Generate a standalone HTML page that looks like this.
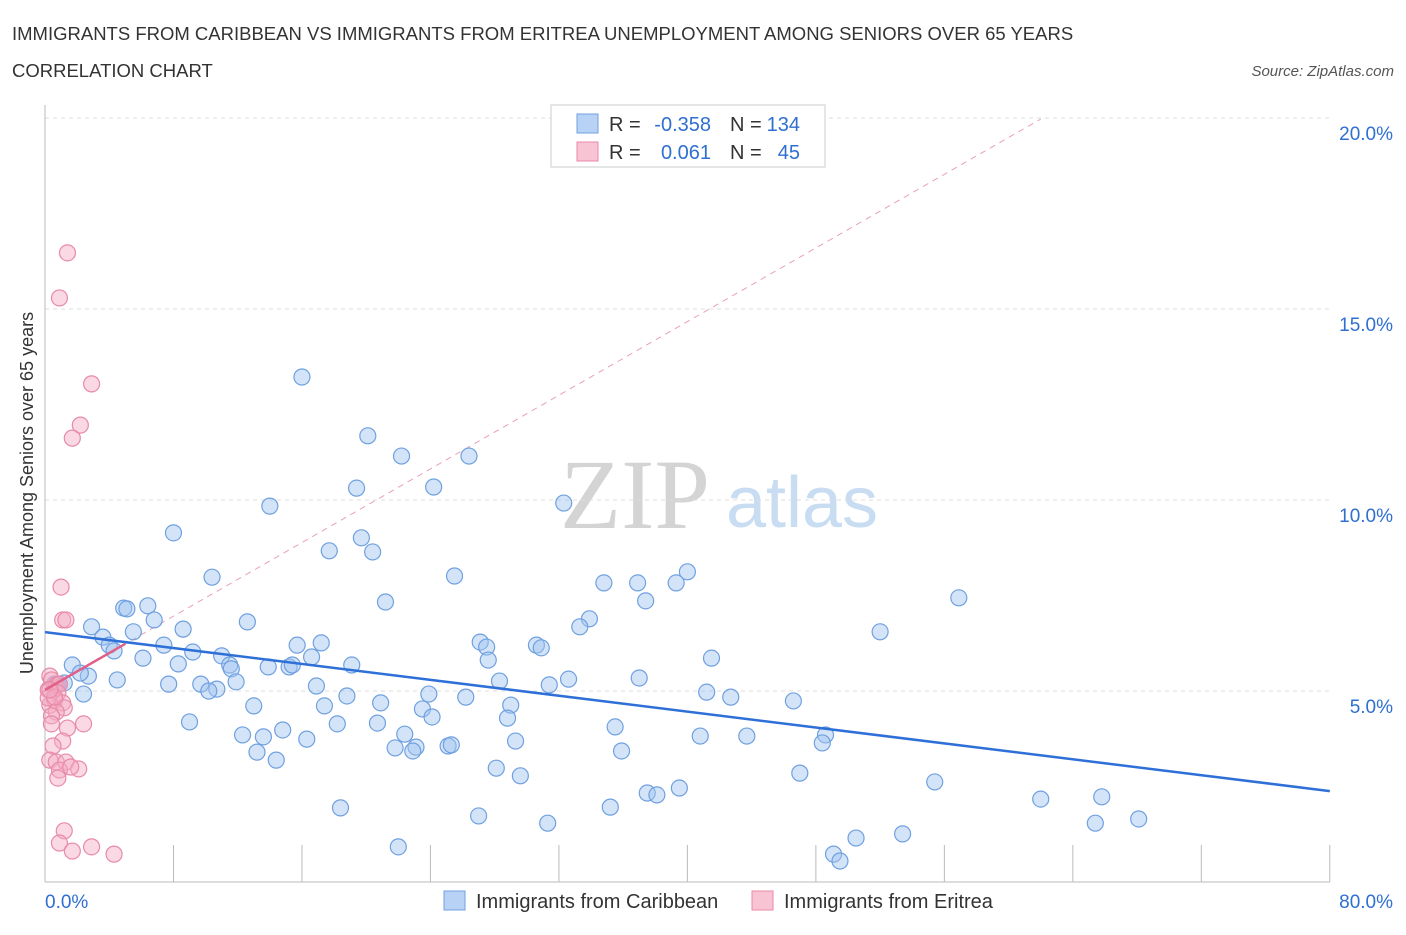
<!DOCTYPE html>
<html><head><meta charset="utf-8"><style>
body{margin:0;background:#fff;font-family:"Liberation Sans",sans-serif;}
</style></head><body>
<svg id="c" width="1406" height="930" xmlns="http://www.w3.org/2000/svg">
<text x="12" y="40" font-size="18.5" fill="#333">IMMIGRANTS FROM CARIBBEAN VS IMMIGRANTS FROM ERITREA UNEMPLOYMENT AMONG SENIORS OVER 65 YEARS</text>
<text x="12" y="77" font-size="18.5" fill="#333">CORRELATION CHART</text>
<text x="1394" y="76" font-size="15" fill="#555" font-style="italic" text-anchor="end">Source: ZipAtlas.com</text>
<text x="635" y="528" font-size="100" fill="#d4d4d4" font-family="Liberation Serif" text-anchor="middle">ZIP</text>
<text x="802" y="527" font-size="72" fill="#c8dcf2" text-anchor="middle">atlas</text>
<g id="grid"></g><g id="marks"></g>
<text transform="translate(33,493) rotate(-90)" font-size="18" fill="#333" text-anchor="middle">Unemployment Among Seniors over 65 years</text>
<g>
<rect x="551" y="105" width="274" height="62" fill="#fff" stroke="#ccc"/>
<rect x="577" y="114" width="21" height="19" fill="#b8d2f5" stroke="#6fa0e0"/>
<rect x="577" y="142" width="21" height="19" fill="#f8c4d4" stroke="#e88aa8"/>
<text x="609" y="131" font-size="20" fill="#333">R =</text>
<text x="711" y="131" font-size="20" fill="#2e6fd0" text-anchor="end">-0.358</text>
<text x="730" y="131" font-size="20" fill="#333">N =</text>
<text x="800" y="131" font-size="20" fill="#2e6fd0" text-anchor="end">134</text>
<text x="609" y="159" font-size="20" fill="#333">R =</text>
<text x="711" y="159" font-size="20" fill="#2e6fd0" text-anchor="end">0.061</text>
<text x="730" y="159" font-size="20" fill="#333">N =</text>
<text x="800" y="159" font-size="20" fill="#2e6fd0" text-anchor="end">45</text>
</g>
<g>
<rect x="444" y="891" width="21" height="19" fill="#b8d2f5" stroke="#6fa0e0"/>
<text x="476" y="908" font-size="20" fill="#333">Immigrants from Caribbean</text>
<rect x="752" y="891" width="21" height="19" fill="#f8c4d4" stroke="#e88aa8"/>
<text x="784" y="908" font-size="20" fill="#333">Immigrants from Eritrea</text>
</g>
</svg>
<script>
const blueX=[16.0,20.1,22.2,26.4,19.4,24.2,32.3,14.0,8.0,19.7,17.7,20.4,25.5,10.4,34.8,36.9,40.0,39.3,56.9,37.4,21.2,4.9,6.4,5.1,6.8,33.9,33.3,12.6,8.6,52.0,2.9,5.5,3.6,7.4,15.7,17.2,27.1,30.6,30.9,27.5,4.0,4.3,9.2,6.1,11.0,16.6,27.6,41.5,8.3,1.7,19.1,11.5,11.6,13.9,15.2,15.4,2.7,2.2,11.9,37.0,32.6,28.3,4.5,7.7,9.7,10.7,10.2,16.9,31.4,0.8,1.2,0.6,2.4,18.8,23.9,41.2,42.7,26.2,46.6,13.0,17.4,20.9,29.0,23.5,24.1,28.8,9.0,18.2,20.7,35.5,22.4,14.8,12.3,13.6,16.3,40.8,43.7,48.6,48.4,29.3,25.1,25.3,21.8,23.1,22.9,13.2,35.9,14.4,28.1,29.6,47.0,55.4,39.5,37.5,38.1,62.0,65.8,18.4,35.2,27.0,31.3,65.4,68.1,50.5,53.4,22.0,49.1,49.5];
const blueY=[13.22,11.68,11.15,11.15,10.31,10.34,9.92,9.84,9.14,9.01,8.67,8.64,8.01,7.98,7.83,7.83,8.12,7.83,7.44,7.36,7.33,7.17,7.23,7.15,6.86,6.89,6.68,6.81,6.62,6.55,6.68,6.55,6.41,6.20,6.20,6.26,6.28,6.20,6.13,6.15,6.20,6.05,6.02,5.86,5.92,5.89,5.81,5.86,5.71,5.68,5.68,5.68,5.58,5.63,5.63,5.68,5.39,5.47,5.24,5.34,5.31,5.26,5.29,5.18,5.18,5.05,5.00,5.13,5.16,5.18,5.21,5.18,4.92,4.87,4.92,4.97,4.84,4.84,4.74,4.61,4.61,4.69,4.63,4.53,4.32,4.29,4.19,4.14,4.16,4.06,3.87,3.98,3.85,3.80,3.74,3.82,3.82,3.85,3.64,3.69,3.56,3.59,3.51,3.53,3.43,3.40,3.43,3.19,2.98,2.78,2.85,2.62,2.46,2.33,2.28,2.17,2.23,1.94,1.96,1.73,1.54,1.54,1.65,1.15,1.26,0.92,0.73,0.55];
const pinkX=[1.4,0.9,2.9,2.2,1.7,1.0,1.1,1.3,0.3,0.4,0.6,0.2,0.7,0.9,0.8,0.6,1.1,0.3,1.2,0.7,0.4,2.4,1.4,0.4,1.1,0.5,0.3,0.7,1.3,2.1,0.9,1.6,0.8,1.2,0.9,1.7,2.9,4.3,0.2,0.6,0.3];
const pinkY=[16.47,15.29,13.04,11.96,11.62,7.72,6.86,6.86,5.39,5.29,5.08,5.03,5.16,5.18,4.95,4.76,4.69,4.63,4.56,4.45,4.35,4.14,4.03,4.14,3.69,3.56,3.19,3.14,3.14,2.96,2.93,3.01,2.72,1.34,1.02,0.81,0.92,0.73,4.82,4.84,5.03];
const yTicks=[5,10,15,20];
const yTickLabels=["5.0%","10.0%","15.0%","20.0%"];
const blueTrend=[6.54,2.38];
const pinkTrend=[5.03,0.241];
const NS="http://www.w3.org/2000/svg";
const X=v=>45+v*16.06, Y=v=>882-v*38.2;
function mk(t,a,p){const e=document.createElementNS(NS,t);for(const k in a)e.setAttribute(k,a[k]);p.appendChild(e);return e;}
const g=document.getElementById('grid'), m=document.getElementById('marks');
yTicks.forEach((t,i)=>{
 const l=mk('line',{x1:45,x2:1330,y1:Y(t),y2:Y(t),stroke:'#ddd','stroke-dasharray':'4,4'},g);
 
 
 const tx=mk('text',{x:1393,y:Y(t)+22,'font-size':19,fill:'#2e6fd0','text-anchor':'end'},g);
 tx.textContent=yTickLabels[i];
 
 
});
mk('line',{x1:45,x2:45,y1:105,y2:882,stroke:'#bbb'},g);
mk('line',{x1:45,x2:1330,y1:882,y2:882,stroke:'#bbb'},g);
for(let i=0;i<=10;i++){const l=mk('line',{x1:X(i*8),x2:X(i*8),y1:845,y2:882,stroke:'#bbb'},g);
 
 }
[[0,"0.0%",'start',45],[80,"80.0%",'end',1393]].forEach(d=>{const t=mk('text',{x:d[3],y:908,'font-size':19,fill:'#2e6fd0','text-anchor':d[2]},g);t.textContent=d[1];
 
 });
const pd=mk('line',{x1:X(0),y1:Y(pinkTrend[0]),x2:X(62),y2:Y(pinkTrend[0]+pinkTrend[1]*62),stroke:'#e8a0b8','stroke-dasharray':'6,5','stroke-width':1},m);


blueX.forEach((x,i)=>{const c=mk('circle',{cx:X(x),cy:Y(blueY[i]),r:8,fill:'rgba(160,196,240,0.45)',stroke:'#6fa0e0','stroke-width':1.2},m);
 
 });
pinkX.forEach((x,i)=>{const c=mk('circle',{cx:X(x),cy:Y(pinkY[i]),r:8,fill:'rgba(245,170,195,0.45)',stroke:'#e88aa8','stroke-width':1.2},m);
 
 });
const bt=mk('line',{x1:X(0),y1:Y(blueTrend[0]),x2:X(80),y2:Y(blueTrend[1]),stroke:'#2e70d8','stroke-width':2.5},m);


const pt=mk('line',{x1:X(0),y1:Y(pinkTrend[0]),x2:X(5),y2:Y(pinkTrend[0]+pinkTrend[1]*5),stroke:'#e0608a','stroke-width':2.5},m);


</script>
</body></html>
